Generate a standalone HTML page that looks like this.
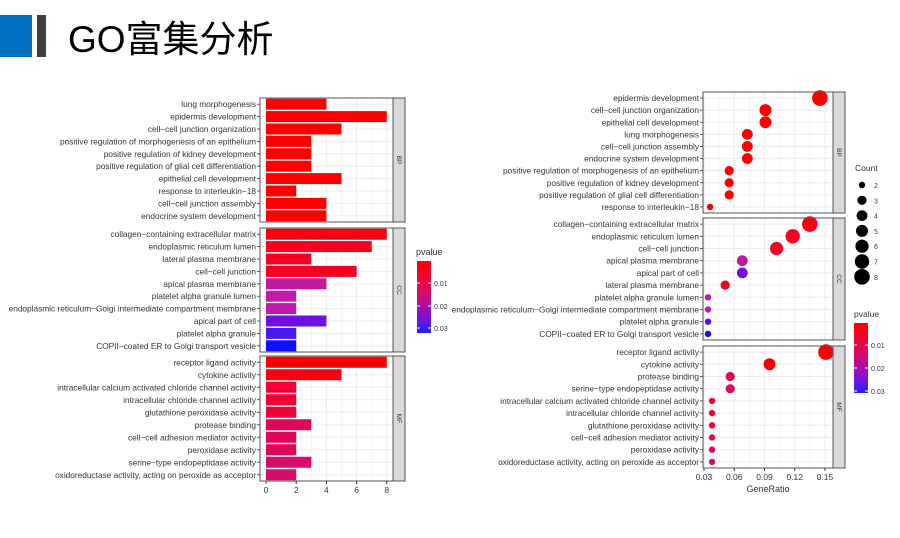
<!DOCTYPE html>
<html><head><meta charset="utf-8">
<style>
body{margin:0;background:#fff;width:900px;height:538px;overflow:hidden}
svg{display:block}
text{font-family:"Liberation Sans",sans-serif;fill:#333}
</style></head><body>
<svg id="s" width="900" height="538" xmlns="http://www.w3.org/2000/svg">
<defs>
<linearGradient id="g" x1="0" y1="0" x2="0" y2="1">
<stop offset="0" stop-color="#ff0000"/><stop offset="0.45" stop-color="#d80a6a"/><stop offset="0.75" stop-color="#8a10d0"/><stop offset="1" stop-color="#2020ff"/>
</linearGradient>
</defs>
<rect x="0" y="15" width="32" height="42" fill="#0070c0"/>
<rect x="37" y="15" width="9" height="42" fill="#404040"/>
<text x="68" y="52" font-size="37" style="fill:#000;font-family:'Liberation Sans','Noto Sans CJK SC',sans-serif">GO富集分析</text>
</svg>
<script>
const s=document.getElementById('s');const NS='http://www.w3.org/2000/svg';
function el(t,a,txt){const e=document.createElementNS(NS,t);for(const k in a)e.setAttribute(k,a[k]);if(txt!=null)e.textContent=txt;s.appendChild(e);return e;}
const BP=["lung morphogenesis","epidermis development","cell−cell junction organization","positive regulation of morphogenesis of an epithelium","positive regulation of kidney development","positive regulation of glial cell differentiation","epithelial cell development","response to interleukin−18","cell−cell junction assembly","endocrine system development"];
const CC=["collagen−containing extracellular matrix","endoplasmic reticulum lumen","lateral plasma membrane","cell−cell junction","apical plasma membrane","platelet alpha granule lumen","endoplasmic reticulum−Golgi intermediate compartment membrane","apical part of cell","platelet alpha granule","COPII−coated ER to Golgi transport vesicle"];
const MF=["receptor ligand activity","cytokine activity","intracellular calcium activated chloride channel activity","intracellular chloride channel activity","glutathione peroxidase activity","protease binding","cell−cell adhesion mediator activity","peroxidase activity","serine−type endopeptidase activity","oxidoreductase activity, acting on peroxide as acceptor"];
const R='#ff0000';
const LP=[{n:BP,y0:98,y1:222,s:'BP',c:[4,8,5,3,3,3,5,2,4,4],col:[R,R,R,R,R,R,R,R,R,R]},
{n:CC,y0:228,y1:352,s:'CC',c:[8,7,3,6,4,2,2,4,2,2],col:['#fb0010','#f80020','#f50025','#f50020','#c0189a','#c01aa8','#c01aa8','#7010e0','#4818f0','#1010ff']},
{n:MF,y0:356,y1:481,s:'MF',c:[8,5,2,2,2,3,2,2,3,2],col:[R,'#fa0010','#f20035','#f20035','#f20035','#dd0858','#dd0858','#dd0858','#d80a6a','#d80a6a']}];
const lx0=260,lx1=393,ox=266,k=15.1;
LP.forEach(p=>{
 el('rect',{x:lx0,y:p.y0,width:lx1-lx0,height:p.y1-p.y0,fill:'#fff'});
 for(let v=0;v<=8;v++){el('line',{x1:ox+v*k,x2:ox+v*k,y1:p.y0,y2:p.y1,stroke:'#ebebeb','stroke-width':v%2?0.5:1});}
 const h=(p.y1-p.y0)/10;
 p.n.forEach((t,i)=>{const yc=p.y0+h*(i+0.5);
  el('line',{x1:lx0,x2:lx1,y1:yc,y2:yc,stroke:'#ebebeb'});
  el('rect',{x:ox,y:yc-5.5,width:p.c[i]*k,height:11,fill:p.col[i]});
  el('line',{x1:lx0-3,x2:lx0,y1:yc,y2:yc,stroke:'#333','stroke-width':0.8});
  el('text',{x:lx0-4,y:yc+3,'font-size':8.3,'text-anchor':'end'},t);});
 el('rect',{x:lx0,y:p.y0,width:lx1-lx0,height:p.y1-p.y0,fill:'none',stroke:'#555','stroke-width':1});
 el('rect',{x:lx1,y:p.y0,width:12,height:p.y1-p.y0,fill:'#d9d9d9',stroke:'#555','stroke-width':1});
 el('text',{x:lx1+6,y:(p.y0+p.y1)/2,'font-size':6.5,'text-anchor':'middle',transform:`rotate(90 ${lx1+6} ${(p.y0+p.y1)/2})`,dy:2},p.s);
});
for(let v=0;v<=8;v+=2){el('line',{x1:ox+v*k,x2:ox+v*k,y1:481,y2:484,stroke:'#333'});el('text',{x:ox+v*k,y:493,'font-size':8.5,'text-anchor':'middle'},v);}
el('text',{x:416,y:255,'font-size':9},'pvalue');
el('rect',{x:417,y:261,width:14,height:72,fill:'url(#g)'});
[[283,'0.01'],[306,'0.02'],[328,'0.03']].forEach(a=>{el('line',{x1:417,x2:420,y1:a[0],y2:a[0],stroke:'#fff'});el('line',{x1:428,x2:431,y1:a[0],y2:a[0],stroke:'#fff'});el('text',{x:434,y:a[0]+3,'font-size':7},a[1]);});
const RP=[{n:["epidermis development","cell−cell junction organization","epithelial cell development","lung morphogenesis","cell−cell junction assembly","endocrine system development","positive regulation of morphogenesis of an epithelium","positive regulation of kidney development","positive regulation of glial cell differentiation","response to interleukin−18"],y0:92,y1:213,s:'BP',r:[.145,.091,.091,.073,.073,.073,.055,.055,.055,.036],c:[8,5,5,4,4,4,3,3,3,2],col:[R,R,R,R,R,R,R,R,R,R]},
{n:["collagen−containing extracellular matrix","endoplasmic reticulum lumen","cell−cell junction","apical plasma membrane","apical part of cell","lateral plasma membrane","platelet alpha granule lumen","endoplasmic reticulum−Golgi intermediate compartment membrane","platelet alpha granule","COPII−coated ER to Golgi transport vesicle"],y0:218,y1:340,s:'CC',r:[.135,.118,.102,.068,.068,.051,.034,.034,.034,.034],c:[8,7,6,4,4,3,2,2,2,2],col:['#fb0010','#f80020','#f50025','#c0189a','#7010e0','#f50020','#c01aa8','#c01aa8','#4818f0','#1010ff']},
{n:["receptor ligand activity","cytokine activity","protease binding","serine−type endopeptidase activity","intracellular calcium activated chloride channel activity","intracellular chloride channel activity","glutathione peroxidase activity","cell−cell adhesion mediator activity","peroxidase activity","oxidoreductase activity, acting on peroxide as acceptor"],y0:346,y1:468,s:'MF',r:[.151,.095,.056,.056,.038,.038,.038,.038,.038,.038],c:[8,5,3,3,2,2,2,2,2,2],col:[R,R,'#dd0858','#d80a6a','#f20035','#f20035','#f20035','#dd0858','#dd0858','#d80a6a']}];
const rx0=703,rx1=833,X=v=>704+(v-0.03)*1008;const rad={2:3.2,3:4.6,4:5.4,5:6,6:6.6,7:7.2,8:7.8};
RP.forEach(p=>{
 el('rect',{x:rx0,y:p.y0,width:rx1-rx0,height:p.y1-p.y0,fill:'#fff'});
 for(let v=0.03;v<0.16;v+=0.015){el('line',{x1:X(v),x2:X(v),y1:p.y0,y2:p.y1,stroke:'#ebebeb','stroke-width':Math.round(v*1000)%30==0?1:0.5});}
 const h=(p.y1-p.y0)/10;
 p.n.forEach((t,i)=>{const yc=p.y0+h*(i+0.5);el('line',{x1:rx0,x2:rx1,y1:yc,y2:yc,stroke:'#ebebeb'});});
 p.n.forEach((t,i)=>{const yc=p.y0+h*(i+0.5);
  el('circle',{cx:X(p.r[i]),cy:yc,r:rad[p.c[i]],fill:p.col[i]});
  el('line',{x1:rx0-3,x2:rx0,y1:yc,y2:yc,stroke:'#333','stroke-width':0.8});
  el('text',{x:rx0-4,y:yc+3,'font-size':8.3,'text-anchor':'end'},t);});
 el('rect',{x:rx0,y:p.y0,width:rx1-rx0,height:p.y1-p.y0,fill:'none',stroke:'#555'});
 el('rect',{x:rx1,y:p.y0,width:12,height:p.y1-p.y0,fill:'#d9d9d9',stroke:'#555'});
 el('text',{x:rx1+6,y:(p.y0+p.y1)/2,'font-size':6.5,'text-anchor':'middle',transform:`rotate(90 ${rx1+6} ${(p.y0+p.y1)/2})`,dy:2},p.s);
});
['0.03','0.06','0.09','0.12','0.15'].forEach(t=>{const x=X(+t);el('line',{x1:x,x2:x,y1:468,y2:471,stroke:'#333'});el('text',{x:x,y:480,'font-size':8.5,'text-anchor':'middle'},t);});
el('text',{x:768,y:492,'font-size':9,'text-anchor':'middle'},'GeneRatio');
el('text',{x:855,y:171,'font-size':8.5},'Count');
[2,3,4,5,6,7,8].forEach((c,i)=>{const y=185+i*15.3;el('circle',{cx:862,cy:y,r:rad[c],fill:'#000'});el('text',{x:874,y:y+3,'font-size':7},c);});
el('text',{x:854,y:317,'font-size':8.5},'pvalue');
el('rect',{x:854,y:323,width:14,height:70,fill:'url(#g)'});
[[345,'0.01'],[368,'0.02'],[391,'0.03']].forEach(a=>{el('line',{x1:854,x2:857,y1:a[0],y2:a[0],stroke:'#fff'});el('line',{x1:865,x2:868,y1:a[0],y2:a[0],stroke:'#fff'});el('text',{x:871,y:a[0]+3,'font-size':7},a[1]);});
</script>
</body></html>
